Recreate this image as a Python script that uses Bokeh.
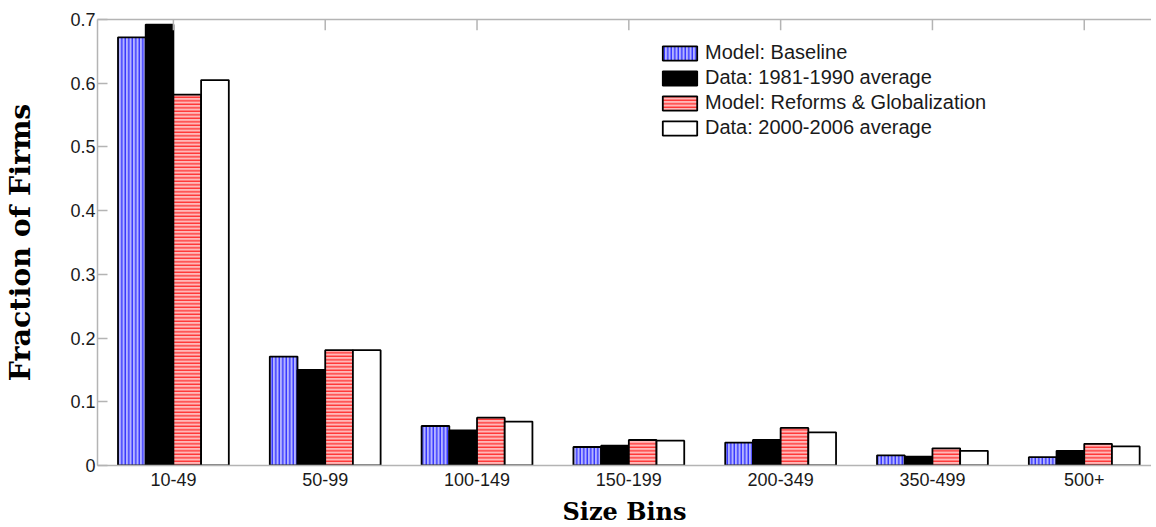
from bokeh.plotting import figure
from bokeh.models import ColumnDataSource, Range1d, FixedTicker, LinearAxis
from bokeh.transform import dodge
from bokeh.embed import file_html
from bokeh.resources import INLINE

# ---- data -------------------------------------------------------------
categories = ["10-49", "50-99", "100-149", "150-199", "200-349", "350-499", "500+"]
model_baseline = [0.672, 0.171, 0.062, 0.029, 0.036, 0.016, 0.013]
data_1981_1990 = [0.692, 0.150, 0.055, 0.031, 0.040, 0.014, 0.023]
model_reforms = [0.582, 0.181, 0.075, 0.040, 0.059, 0.027, 0.034]
data_2000_2006 = [0.605, 0.181, 0.069, 0.039, 0.052, 0.023, 0.030]
y_ticks = [0, 0.1, 0.2, 0.3, 0.4, 0.5, 0.6, 0.7]

xpos = list(range(1, len(categories) + 1))
src = ColumnDataSource(dict(x=xpos, mb=model_baseline, d81=data_1981_1990,
                            mr=model_reforms, d00=data_2000_2006))

GRAY = "#b4b4b4"
Y_TOP = 0.7

p = figure(frame_width=1054, frame_height=446, output_backend="svg", toolbar_location=None,
           x_range=Range1d(0.5, 7.443), y_range=Range1d(0, Y_TOP),
           min_border_left=94, min_border_right=0, min_border_top=19,
           min_border_bottom=61)
p.outline_line_color = None
p.xgrid.grid_line_color = None
p.ygrid.grid_line_color = None
p.background_fill_color = "white"
p.border_fill_color = "white"

w = 0.1825
series = [
    ("mb", "Model: Baseline", -1.5, dict(fill_color="#b4b4ff", hatch_pattern="|",
                                         hatch_color="#0000ff", hatch_scale=3.5, hatch_weight=1.0)),
    ("d81", "Data: 1981-1990 average", -0.5, dict(fill_color="black")),
    ("mr", "Model: Reforms & Globalization", 0.5, dict(fill_color="#ffb8b8", hatch_pattern="-",
                                                       hatch_color="#ff0000", hatch_scale=3.5, hatch_weight=1.0)),
    ("d00", "Data: 2000-2006 average", 1.5, dict(fill_color="white")),
]
for col, lab, k, style in series:
    p.vbar(x=dodge("x", k * w, range=p.x_range), top=col, width=w, source=src,
           line_color="black", line_width=1.8, legend_label=lab, **style)

# short inward tick marks along the top border at the category positions
p.segment(x0=xpos, y0=[Y_TOP] * len(xpos), x1=xpos, y1=[Y_TOP - 0.017] * len(xpos),
          line_color=GRAY, line_width=1.5)

# axes
tick_font = "Liberation Sans"
p.yaxis.ticker = FixedTicker(ticks=y_ticks)
p.yaxis.major_label_overrides = {0: "0"}
p.xaxis.ticker = FixedTicker(ticks=xpos)
p.xaxis.major_label_overrides = {i: c for i, c in zip(xpos, categories)}
for ax in (p.xaxis[0], p.yaxis[0]):
    ax.axis_line_color = GRAY
    ax.axis_line_width = 1.5
    ax.major_tick_line_color = GRAY
    ax.major_tick_line_width = 1.5
    ax.minor_tick_line_color = None
    ax.major_tick_out = 0
    ax.major_label_text_font = tick_font
    ax.major_label_text_font_size = "18px"
    ax.major_label_text_color = "#1a1a1a"
    ax.axis_label_text_font = "DejaVu Serif"
    ax.axis_label_text_font_style = "bold"
    ax.axis_label_text_color = "black"
p.yaxis.axis_label_text_font_size = "28.5px"
p.xaxis.axis_label_text_font_size = "24px"
p.yaxis.major_tick_in = 10
p.xaxis.major_tick_in = 0
p.yaxis.major_label_standoff = 2
p.xaxis.major_label_standoff = 7
p.yaxis.axis_label = "Fraction of Firms"
p.xaxis.axis_label = "Size Bins"
p.yaxis.axis_label_standoff = 30
p.xaxis.axis_label_standoff = 8

top = LinearAxis(ticker=FixedTicker(ticks=[]), axis_line_color=GRAY, axis_line_width=1.5,
                 major_tick_line_color=None, minor_tick_line_color=None,
                 major_tick_out=0, major_tick_in=0)
p.add_layout(top, "above")

# legend
lg = p.legend[0]
lg.location = (561, 326)
lg.border_line_color = None
lg.background_fill_alpha = 0
lg.padding = 0
lg.margin = 0
lg.spacing = 2
lg.glyph_width = 43
lg.glyph_height = 18
lg.label_height = 20
lg.label_standoff = 4
lg.label_text_font = tick_font
lg.label_text_font_size = "20px"
lg.label_text_color = "#1a1a1a"

open("out.html", "w").write(file_html(p, INLINE))
